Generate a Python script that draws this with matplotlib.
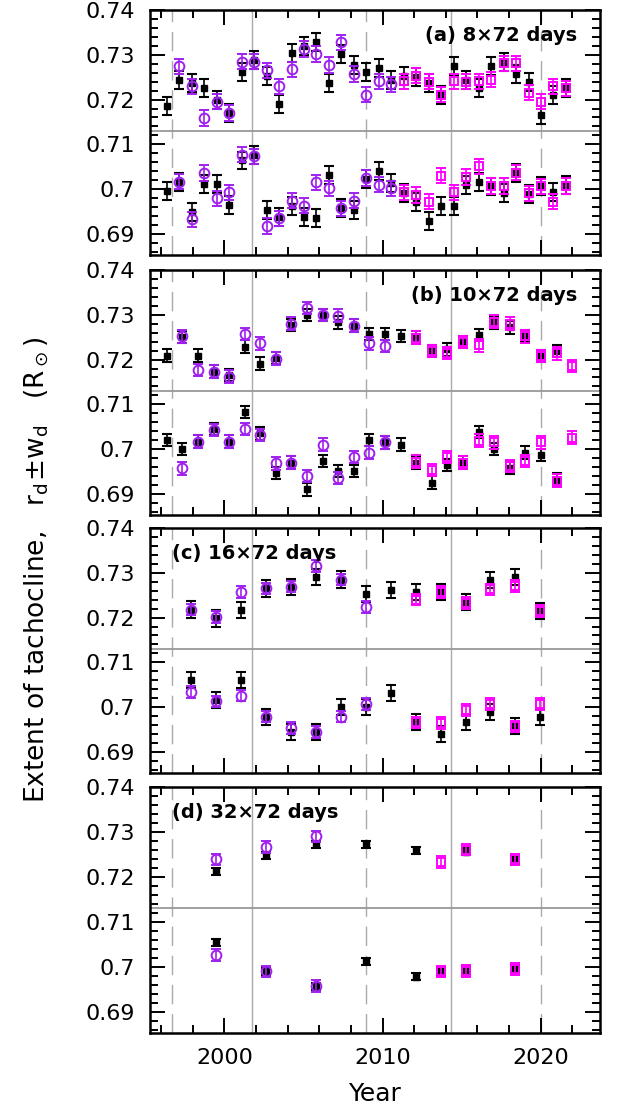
import numpy as np
import matplotlib
matplotlib.use("Agg")
import matplotlib.pyplot as plt
from matplotlib.ticker import MultipleLocator, FormatStrFormatter

plt.rcParams['font.family'] = ['DejaVu Sans']
plt.rcParams['mathtext.fontset'] = 'dejavusans'

nan = np.nan
PURPLE = '#A020F0'
MAGENTA = '#FF00FF'

# ---- panel (a) 8x72 days ----
a_year = [1996.36, 1997.15, 1997.94, 1998.73, 1999.51, 2000.30, 2001.09, 2001.88,
          2002.67, 2003.46, 2004.25, 2005.03, 2005.82, 2006.61, 2007.40, 2008.19,
          2008.98, 2009.76, 2010.55, 2011.34, 2012.13, 2012.92, 2013.71, 2014.50,
          2015.28, 2016.07, 2016.86, 2017.65, 2018.44, 2019.23, 2020.02, 2020.80,
          2021.59]
a_blk_up = [0.7185, 0.7244, 0.7236, 0.7226, 0.7200, 0.7170, 0.7262, 0.7289, 0.7253,
            0.7191, 0.7304, 0.7319, 0.7329, 0.7238, 0.7302, 0.7277, 0.7262, 0.7270,
            0.7244, 0.7253, 0.7251, 0.7236, 0.7210, 0.7274, 0.7244, 0.7225, 0.7275,
            0.7283, 0.7257, 0.7240, 0.7165, 0.7210, 0.7225]
a_blk_lo = [0.6995, 0.7017, 0.6948, 0.7012, 0.7012, 0.6965, 0.7064, 0.7077, 0.6954,
            0.6937, 0.6963, 0.6937, 0.6935, 0.7032, 0.6957, 0.6954, 0.7022, 0.7040,
            0.7013, 0.6991, 0.6972, 0.6928, 0.6963, 0.6963, 0.7010, 0.7015, 0.7006,
            0.6991, 0.7036, 0.6990, 0.7007, 0.6993, 0.7010]
a_mdi_year = a_year[1:19]
a_mdi_up = [0.7274, 0.7230, 0.7159, 0.7195, 0.7170, 0.7285, 0.7285, 0.7265, 0.7230,
            0.7268, 0.7313, 0.7302, 0.7277, 0.7328, 0.7257, 0.7211, 0.7241, 0.7234]
a_mdi_lo = [0.7017, 0.6933, 0.7036, 0.6980, 0.6993, 0.7077, 0.7073, 0.6918, 0.6935,
            0.6974, 0.6963, 0.7015, 0.7002, 0.6957, 0.6974, 0.7025, 0.7010, 0.7002]
a_hmi_year = a_year[19:]
a_hmi_up = [0.7241, 0.7253, 0.7240, 0.7211, 0.7241, 0.7240, 0.7241, 0.7244, 0.7281,
            0.7281, 0.7215, 0.7195, 0.7230, 0.7225]
a_hmi_lo = [0.6993, 0.6987, 0.6972, 0.7030, 0.6993, 0.7027, 0.7051, 0.7007, 0.7007,
            0.7037, 0.6991, 0.7006, 0.6972, 0.7007]

# ---- panel (b) 10x72 days ----
b_year = [1996.36, 1997.35, 1998.33, 1999.32, 2000.30, 2001.29, 2002.27, 2003.26,
          2004.24, 2005.23, 2006.22, 2007.20, 2008.19, 2009.17, 2010.16, 2011.14,
          2012.13, 2013.12, 2014.10, 2015.09, 2016.07, 2017.06, 2018.04, 2019.03,
          2020.01, 2021.00, 2021.98]
b_blk_up = [0.7209, 0.7250, 0.7209, 0.7173, 0.7166, 0.7229, 0.7191, 0.7204, 0.7277,
            0.7300, 0.7300, 0.7283, 0.7276, 0.7257, 0.7257, 0.7253, 0.7249, 0.7219,
            0.7223, 0.7239, 0.7255, 0.7283, 0.7272, 0.7253, 0.7208, 0.7219, nan]
b_blk_lo = [0.7020, 0.7000, 0.7017, 0.7045, 0.7017, 0.7083, 0.7035, 0.6947, 0.6970,
            0.6910, 0.6974, 0.6951, 0.6951, 0.7020, 0.7015, 0.7010, 0.6970, 0.6925,
            0.6965, 0.6970, 0.7038, 0.7000, 0.6959, 0.6992, 0.6987, 0.6932, nan]
b_mdi_year = b_year[1:15]
b_mdi_up = [0.7252, 0.7177, 0.7173, 0.7162, 0.7257, 0.7236, 0.7202, 0.7280, 0.7315,
            0.7300, 0.7298, 0.7276, 0.7236, 0.7230]
b_mdi_lo = [0.6957, 0.7017, 0.7043, 0.7017, 0.7045, 0.7032, 0.6968, 0.6970, 0.6940,
            0.7010, 0.6936, 0.6983, 0.6992, 0.7015]
b_hmi_year = b_year[16:]
b_hmi_up = [0.7249, 0.7219, 0.7215, 0.7239, 0.7232, 0.7285, 0.7280, 0.7252, 0.7208,
            0.7214, 0.7186]
b_hmi_lo = [0.6972, 0.6953, 0.6983, 0.6970, 0.7019, 0.7015, 0.6962, 0.6974, 0.7015,
            0.6930, 0.7026]

# ---- panel (c) 16x72 days ----
c_year = [1997.90, 1999.48, 2001.05, 2002.63, 2004.21, 2005.78, 2007.36, 2008.94,
          2010.52, 2012.09, 2013.67, 2015.25, 2016.82, 2018.40, 2019.98]
c_blk_up = [0.7218, 0.7198, 0.7216, 0.7265, 0.7269, 0.7290, 0.7285, 0.7252, 0.7261,
            0.7257, 0.7257, 0.7235, 0.7284, 0.7290, 0.7215]
c_blk_lo = [0.7060, 0.7016, 0.7061, 0.6979, 0.6944, 0.6944, 0.7000, 0.7001, 0.7031,
            0.6966, 0.6940, 0.6966, 0.6989, 0.6957, 0.6978]
c_mdi_year = c_year[0:8]
c_mdi_up = [0.7218, 0.7201, 0.7257, 0.7265, 0.7269, 0.7315, 0.7285, 0.7224]
c_mdi_lo = [0.7034, 0.7013, 0.7026, 0.6979, 0.6954, 0.6944, 0.6979, 0.7007]
c_hmi_year = c_year[9:]
c_hmi_up = [0.7240, 0.7257, 0.7233, 0.7263, 0.7270, 0.7215]
c_hmi_lo = [0.6966, 0.6964, 0.6994, 0.7007, 0.6957, 0.7007]

# ---- panel (d) 32x72 days ----
d_year = [1999.48, 2002.63, 2005.78, 2008.94, 2012.09, 2013.67, 2015.25, 2018.40]
d_blk_up = [0.7213, 0.7248, 0.7273, 0.7273, 0.7259, nan, 0.7256, 0.7237]
d_blk_lo = [0.7055, 0.6990, 0.6957, 0.7012, 0.6978, 0.6988, 0.6995, 0.6997]
d_mdi_year = d_year[0:3]
d_mdi_up = [0.7239, 0.7267, 0.7290]
d_mdi_lo = [0.7027, 0.6990, 0.6957]
d_hmi_year = d_year[5:]
d_hmi_up = [0.7233, 0.7261, 0.7239]
d_hmi_lo = [0.6990, 0.6991, 0.6995]

# typical error bars per panel: (black, coloured)
errs = [(0.0020, 0.0017), (0.0014, 0.0014), (0.0018, 0.0013), (0.0008, 0.0013)]

labels = [u'(a) 8\u00d772 days', u'(b) 10\u00d772 days',
          u'(c) 16\u00d772 days', u'(d) 32\u00d772 days']

sol_min = [1996.67, 2008.97, 2020.0]
sol_max = [2001.77, 2014.3]

panels = [
    (a_year, a_blk_up, a_blk_lo, a_mdi_year, a_mdi_up, a_mdi_lo, a_hmi_year, a_hmi_up, a_hmi_lo),
    (b_year, b_blk_up, b_blk_lo, b_mdi_year, b_mdi_up, b_mdi_lo, b_hmi_year, b_hmi_up, b_hmi_lo),
    (c_year, c_blk_up, c_blk_lo, c_mdi_year, c_mdi_up, c_mdi_lo, c_hmi_year, c_hmi_up, c_hmi_lo),
    (d_year, d_blk_up, d_blk_lo, d_mdi_year, d_mdi_up, d_mdi_lo, d_hmi_year, d_hmi_up, d_hmi_lo),
]

W, H = 623, 1110
fig = plt.figure(figsize=(W/100, H/100), dpi=100)
tops = [10, 270, 528, 787]
bots = [255, 515, 773, 1033]

for k, p in enumerate(panels):
    yr, bu, bl, my, mu, ml, hy, hu, hl = p
    eb, ec = errs[k]
    ax = fig.add_axes([150/W, 1 - bots[k]/H, 450/W, (bots[k]-tops[k])/H])

    for xm in sol_min:
        ax.axvline(xm, color='#aaaaaa', lw=1.0, ls=(0, (14, 7)), zorder=0)
    for xm in sol_max:
        ax.axvline(xm, color='#aaaaaa', lw=1.0, zorder=0)
    ax.axhline(0.713, color='#999999', lw=1.3, zorder=0)

    kw = dict(ls='none', capsize=3.8, elinewidth=1.2, capthick=1.5)
    for yy in (bu, bl):
        ax.errorbar(yr, yy, yerr=eb, fmt='s', ms=5, color='black', mfc='black',
                    mec='black', zorder=2, **kw)
    for yy in (mu, ml):
        ax.errorbar(my, yy, yerr=ec, fmt='o', ms=7, color=PURPLE, mfc='none',
                    mec=PURPLE, mew=1.4, zorder=3, **kw)
    for yy in (hu, hl):
        ax.errorbar(hy, yy, yerr=ec, fmt='s', ms=6, color=MAGENTA, mfc='none',
                    mec=MAGENTA, mew=1.4, zorder=3, **kw)

    ax.set_xlim(1995.3, 2023.75)
    ax.set_ylim(0.6853, 0.74)
    ax.xaxis.set_major_locator(MultipleLocator(10))
    ax.xaxis.set_minor_locator(MultipleLocator(2))
    ax.yaxis.set_major_locator(MultipleLocator(0.01))
    ax.yaxis.set_minor_locator(MultipleLocator(0.002))
    ax.yaxis.set_major_formatter(FormatStrFormatter('%g'))
    ax.tick_params(which='both', direction='in', top=True, right=True, width=1.4)
    ax.tick_params(which='major', length=11, labelsize=16, pad=11)
    ax.tick_params(which='minor', length=5.5)
    for s in ax.spines.values():
        s.set_linewidth(1.8)
    if k < 3:
        ax.set_xticklabels([])

    if k < 2:
        ax.text(0.949, 0.897, labels[k], transform=ax.transAxes, ha='right',
                va='center', fontsize=14, fontweight='bold')
    else:
        ax.text(0.049, 0.895, labels[k], transform=ax.transAxes, ha='left',
                va='center', fontsize=14, fontweight='bold')

ax.set_xlabel('Year', fontsize=18, labelpad=10)
fig.text(37/W, 1 - 570/H,
         r'Extent of tachocline,   $\mathregular{r_d \!\pm\! w_d}$   ($\mathregular{R_\odot}$)',
         rotation=90, ha='center', va='center', fontsize=19)

fig.savefig('out.png', dpi=100)
